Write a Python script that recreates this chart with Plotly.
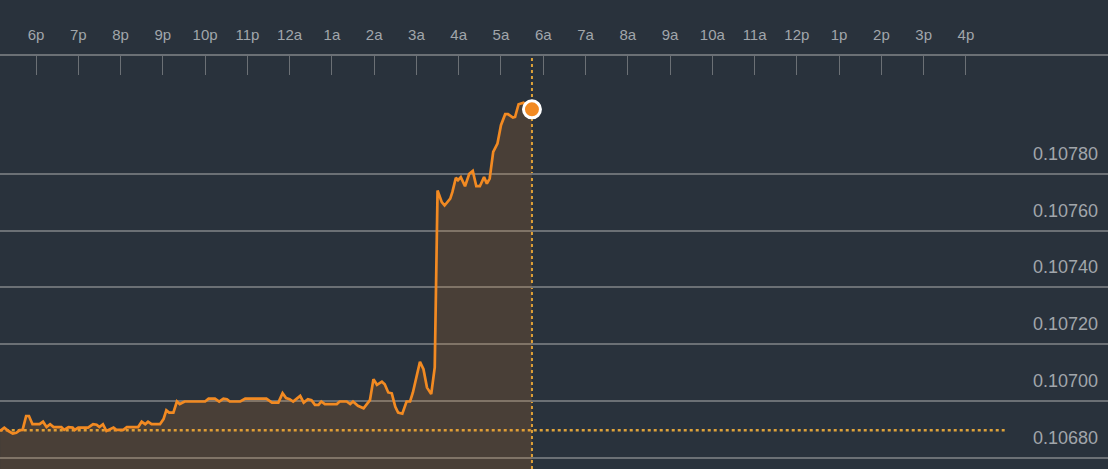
import pandas as pd
import plotly.graph_objects as go

# intraday quotes, 5pm through ~5:45am (clock times, rolls past midnight)
times = ['17:09', '17:15', '17:21', '17:27', '17:32', '17:37', '17:41', '17:46', '17:50', '17:55',
         '18:05', '18:10', '18:15', '18:20', '18:25', '18:36', '18:40', '18:46', '18:52', '18:55',
         '19:00', '19:14', '19:21', '19:26', '19:30', '19:35', '19:40', '19:45', '19:50', '19:54',
         '20:04', '20:09', '20:25', '20:30', '20:35', '20:39', '20:44', '20:56', '21:01', '21:05',
         '21:09', '21:15', '21:20', '21:24', '21:31', '22:00', '22:05', '22:14', '22:20', '22:26',
         '22:31', '22:35', '22:50', '22:57', '23:27', '23:35', '23:44', '23:50', '23:55', '00:00',
         '00:05', '00:15', '00:20', '00:26', '00:31', '00:36', '00:41', '00:45', '00:50', '01:07',
         '01:11', '01:21', '01:26', '01:30', '01:37', '01:45', '01:54', '01:59', '02:04', '02:11',
         '02:15', '02:20', '02:25', '02:30', '02:34', '02:40', '02:46', '02:51', '02:55', '03:05',
         '03:10', '03:15', '03:21', '03:26', '03:30', '03:36', '03:40', '03:48', '03:51', '03:56',
         '03:59', '04:03', '04:09', '04:15', '04:20', '04:25', '04:30', '04:36', '04:40', '04:44',
         '04:49', '04:55', '05:00', '05:06', '05:10', '05:17', '05:20', '05:25', '05:32', '05:44']
prices = [0.106894, 0.106906, 0.106894, 0.106885, 0.106888, 0.106897, 0.106898, 0.106947, 0.106947, 0.106918,
          0.106918, 0.106927, 0.106908, 0.106918, 0.106908, 0.106908, 0.106898, 0.106908, 0.106906, 0.106898,
          0.106906, 0.106906, 0.106918, 0.106916, 0.106908, 0.106918, 0.106894, 0.106900, 0.106906, 0.106898,
          0.106898, 0.106908, 0.106908, 0.106927, 0.106918, 0.106927, 0.106918, 0.106918, 0.106936, 0.106967,
          0.106959, 0.106959, 0.106998, 0.106989, 0.106998, 0.106998, 0.107008, 0.107008, 0.106998, 0.107008,
          0.107006, 0.106998, 0.106998, 0.107008, 0.107008, 0.106994, 0.106994, 0.107027, 0.107010, 0.107006,
          0.106998, 0.107018, 0.106994, 0.107006, 0.107003, 0.106986, 0.106986, 0.106998, 0.106989, 0.106989,
          0.106998, 0.106998, 0.106989, 0.106998, 0.106983, 0.106974, 0.107003, 0.107077, 0.107057, 0.107068,
          0.107059, 0.107030, 0.107027, 0.106979, 0.106959, 0.106955, 0.106998, 0.106998, 0.107030, 0.107138,
          0.107112, 0.107047, 0.107024, 0.107118, 0.107742, 0.107701, 0.107689, 0.107713, 0.107736, 0.107787,
          0.107778, 0.107789, 0.107757, 0.107801, 0.107811, 0.107757, 0.107757, 0.107789, 0.107766, 0.107784,
          0.107878, 0.107907, 0.107972, 0.108011, 0.108011, 0.107999, 0.108001, 0.108046, 0.108051, 0.108028]

prev_close = 0.106897
hour_labels = ['6p', '7p', '8p', '9p', '10p', '11p', '12a', '1a', '2a', '3a', '4a', '5a',
               '6a', '7a', '8a', '9a', '10a', '11a', '12p', '1p', '2p', '3p', '4p']
price_ticks = [0.10680, 0.10700, 0.10720, 0.10740, 0.10760, 0.10780]

day1 = pd.Timestamp('2024-05-13')
stamps = []
for t in times:
    ts = pd.Timestamp(f'2024-05-13 {t}')
    if ts.hour < 12:
        ts = ts + pd.Timedelta(days=1)
    stamps.append(ts)

hour_ticks = [day1 + pd.Timedelta(hours=18 + i) for i in range(len(hour_labels))]
session_start = pd.Timestamp('2024-05-13 17:00')
session_end = pd.Timestamp('2024-05-14 16:55')

bg = '#29323c'
orange = '#f28a22'
gold = '#dda23a'
grey_line = '#6b7075'
text_col = '#a1a6ab'

fig = go.Figure()
fig.add_trace(go.Scatter(x=stamps, y=prices, mode='lines', fill='tozeroy',
                         fillcolor='rgba(242,138,34,0.16)',
                         line=dict(color=orange, width=2.7), hoverinfo='x+y'))
fig.add_trace(go.Scatter(x=[stamps[-1]], y=[prices[-1]], mode='markers',
                         marker=dict(size=17, color=orange, line=dict(color='white', width=3))))

# current time + previous close
fig.add_shape(type='line', xref='x', yref='paper', x0=stamps[-1], x1=stamps[-1], y0=0, y1=0.995,
              line=dict(color=gold, width=2, dash='dot'), layer='below')
fig.add_shape(type='line', xref='x', yref='y', x0=session_start, x1=session_end,
              y0=prev_close, y1=prev_close,
              line=dict(color=gold, width=2.5, dash='dot'), layer='below')

for v in price_ticks:
    fig.add_annotation(x=1, xref='paper', y=v, yref='y', text=f'{v:.5f}', showarrow=False,
                       xanchor='right', yanchor='bottom', xshift=-8, yshift=8,
                       font=dict(size=18, color=text_col))

fig.update_layout(
    width=1108, height=469,
    margin=dict(l=0, r=0, t=56, b=0),
    paper_bgcolor=bg, plot_bgcolor=bg,
    showlegend=False,
    font=dict(family='Liberation Sans, Arial, sans-serif', color=text_col),
    xaxis=dict(type='date', side='top',
               range=['2024-05-13 17:08:54', '2024-05-14 19:21:40'],
               tickvals=hour_ticks, ticktext=hour_labels,
               ticks='inside', ticklen=19, tickwidth=1, tickcolor=grey_line,
               showline=True, linecolor=grey_line, linewidth=1.5,
               showgrid=False, zeroline=False, ticklabelstandoff=8,
               tickfont=dict(size=15, color=text_col)),
    yaxis=dict(range=[0.1067601, 0.108216], tickvals=price_ticks, showticklabels=False,
               showgrid=True, gridcolor=grey_line, gridwidth=1.5, zeroline=False),
)

fig.write_html('out.html', config={'displayModeBar': False},
               post_script="document.body.style.margin='0';document.body.style.background='" + bg + "';")
